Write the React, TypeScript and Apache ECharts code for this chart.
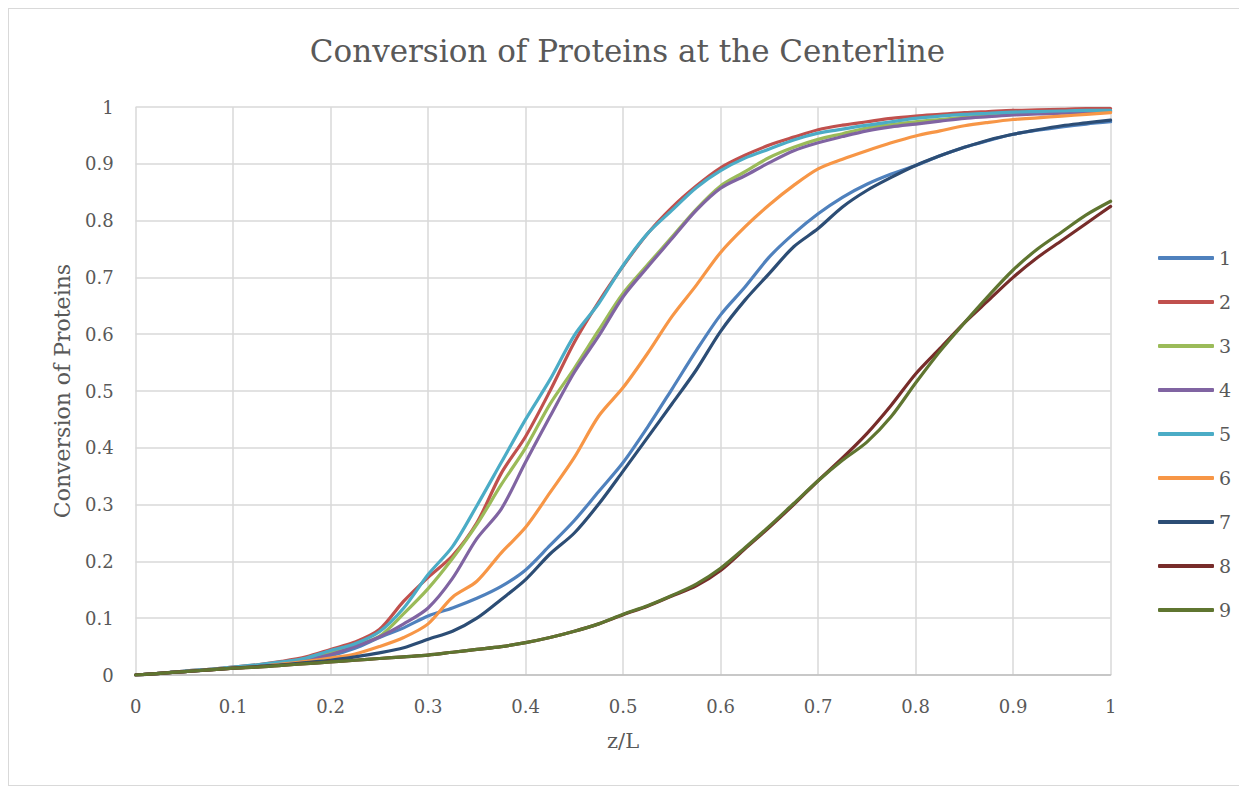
import React, { useEffect, useRef } from "react";
import * as echarts from "echarts";

const xValues = [
  0, 0.025, 0.05, 0.075, 0.1, 0.125, 0.15, 0.175, 0.2, 0.225, 0.25, 0.275, 0.3, 0.325, 0.35, 0.375, 0.4,
  0.425, 0.45, 0.475, 0.5, 0.525, 0.55, 0.575, 0.6, 0.625, 0.65, 0.675, 0.7, 0.725, 0.75, 0.775, 0.8,
  0.825, 0.85, 0.875, 0.9, 0.925, 0.95, 0.975, 1,
];

const s1 = [0, 0.003, 0.006, 0.009, 0.013, 0.016, 0.02, 0.026, 0.034, 0.047, 0.066, 0.083, 0.104, 0.118, 0.135, 0.156, 0.185, 0.228, 0.272, 0.323, 0.374, 0.436, 0.503, 0.571, 0.634, 0.683, 0.736, 0.777, 0.812, 0.841, 0.864, 0.882, 0.897, 0.914, 0.929, 0.941, 0.952, 0.959, 0.965, 0.97, 0.974];
const s2 = [0, 0.003, 0.007, 0.01, 0.014, 0.018, 0.024, 0.032, 0.045, 0.058, 0.08, 0.13, 0.172, 0.21, 0.268, 0.355, 0.42, 0.5, 0.586, 0.657, 0.72, 0.777, 0.823, 0.861, 0.893, 0.915, 0.933, 0.947, 0.96, 0.968, 0.974, 0.98, 0.984, 0.987, 0.99, 0.992, 0.994, 0.995, 0.996, 0.997, 0.997];
const s3 = [0, 0.003, 0.006, 0.009, 0.013, 0.017, 0.022, 0.029, 0.039, 0.052, 0.068, 0.108, 0.152, 0.205, 0.265, 0.335, 0.4, 0.477, 0.54, 0.607, 0.672, 0.722, 0.771, 0.82, 0.861, 0.886, 0.911, 0.929, 0.943, 0.953, 0.963, 0.969, 0.974, 0.978, 0.982, 0.985, 0.987, 0.989, 0.99, 0.992, 0.993];
const s4 = [0, 0.003, 0.006, 0.009, 0.013, 0.016, 0.021, 0.027, 0.036, 0.05, 0.067, 0.09, 0.118, 0.17, 0.24, 0.292, 0.375, 0.455, 0.533, 0.597, 0.666, 0.718, 0.768, 0.818, 0.857, 0.879, 0.902, 0.923, 0.937, 0.948, 0.958, 0.965, 0.97, 0.975, 0.98, 0.983, 0.986, 0.988, 0.989, 0.991, 0.992];
const s5 = [0, 0.003, 0.007, 0.01, 0.014, 0.018, 0.023, 0.03, 0.043, 0.055, 0.076, 0.118, 0.177, 0.226, 0.298, 0.374, 0.45, 0.52, 0.598, 0.654, 0.721, 0.777, 0.818, 0.858, 0.888, 0.91, 0.926, 0.942, 0.954, 0.961, 0.968, 0.974, 0.98, 0.984, 0.987, 0.989, 0.991, 0.992, 0.993, 0.994, 0.994];
const s6 = [0, 0.003, 0.006, 0.009, 0.012, 0.015, 0.019, 0.024, 0.03, 0.037, 0.05, 0.066, 0.09, 0.137, 0.165, 0.215, 0.26, 0.321, 0.383, 0.456, 0.506, 0.566, 0.631, 0.686, 0.744, 0.789, 0.828, 0.862, 0.891, 0.908, 0.923, 0.937, 0.949, 0.958, 0.967, 0.973, 0.978, 0.981, 0.984, 0.987, 0.99];
const s7 = [0, 0.003, 0.006, 0.009, 0.012, 0.015, 0.018, 0.022, 0.026, 0.032, 0.039, 0.048, 0.063, 0.077, 0.1, 0.133, 0.168, 0.213, 0.25, 0.301, 0.359, 0.418, 0.477, 0.537, 0.605, 0.66, 0.707, 0.754, 0.786, 0.824, 0.853, 0.876, 0.897, 0.914, 0.929, 0.942, 0.952, 0.96, 0.967, 0.972, 0.977];
const s8 = [0, 0.003, 0.006, 0.009, 0.012, 0.014, 0.017, 0.02, 0.023, 0.026, 0.029, 0.032, 0.035, 0.04, 0.045, 0.05, 0.057, 0.066, 0.077, 0.09, 0.106, 0.121, 0.139, 0.157, 0.184, 0.222, 0.26, 0.3, 0.342, 0.382, 0.425, 0.475, 0.53, 0.575, 0.62, 0.66, 0.7, 0.735, 0.765, 0.795, 0.825];
const s9 = [0, 0.003, 0.006, 0.009, 0.012, 0.014, 0.017, 0.02, 0.023, 0.026, 0.029, 0.032, 0.035, 0.04, 0.045, 0.05, 0.057, 0.066, 0.077, 0.09, 0.107, 0.122, 0.14, 0.16, 0.188, 0.224, 0.262, 0.302, 0.342, 0.378, 0.41, 0.455, 0.514, 0.57, 0.62, 0.668, 0.713, 0.75, 0.78, 0.81, 0.834];

const seriesNames = ["1", "2", "3", "4", "5", "6", "7", "8", "9"];
const seriesValues = [s1, s2, s3, s4, s5, s6, s7, s8, s9];
const seriesColors = ["#4F81BD", "#C0504D", "#9BBB59", "#8064A2", "#4BACC6", "#F79646", "#2C4D75", "#772C2A", "#5F7530"];

const titleText = "Conversion of Proteins at the Centerline";
const xAxisName = "z/L";
const yAxisName = "Conversion of Proteins";

const FONT = "'DejaVu Serif', serif";
const TEXT_COLOR = "#595959";

export default function App() {
  const ref = useRef<HTMLDivElement>(null);

  useEffect(() => {
    if (!ref.current) return;
    const chart = echarts.init(ref.current, undefined, { renderer: "svg" });
    const fmt = (v: number) => String(Number(v.toFixed(1)));
    chart.setOption({
      animation: false,
      backgroundColor: "#ffffff",
      title: {
        text: titleText,
        left: "center",
        top: 21,
        textStyle: { fontFamily: FONT, fontSize: 31, fontWeight: "normal", color: TEXT_COLOR },
      },
      legend: {
        orient: "vertical",
        left: 1144,
        top: 234,
        padding: 5,
        icon: "roundRect",
        itemWidth: 56,
        itemHeight: 4,
        itemGap: 24,
        data: seriesNames,
        textStyle: { fontFamily: FONT, fontSize: 19, color: TEXT_COLOR, lineHeight: 20, height: 20 },
      },
      grid: { left: 126.6, right: 135.4, top: 98, bottom: 110, containLabel: false },
      xAxis: {
        type: "value",
        min: 0,
        max: 1,
        interval: 0.1,
        name: xAxisName,
        nameLocation: "middle",
        nameGap: 55,
        nameTextStyle: { fontFamily: FONT, fontSize: 21, color: TEXT_COLOR },
        axisLine: { show: true, lineStyle: { color: "#BFBFBF", width: 1.5 } },
        axisTick: { show: false },
        axisLabel: { margin: 22, fontFamily: FONT, fontSize: 18, color: TEXT_COLOR, formatter: fmt },
        splitLine: { show: true, lineStyle: { color: "#D9D9D9", width: 1.5 } },
      },
      yAxis: {
        type: "value",
        min: 0,
        max: 1,
        interval: 0.1,
        name: yAxisName,
        nameLocation: "middle",
        nameGap: 62,
        nameTextStyle: { fontFamily: FONT, fontSize: 22, color: TEXT_COLOR },
        axisLine: { show: false },
        axisTick: { show: false },
        axisLabel: { margin: 22, fontFamily: FONT, fontSize: 18, color: TEXT_COLOR, formatter: fmt },
        splitLine: { show: true, lineStyle: { color: "#D9D9D9", width: 1.5 } },
      },
      series: seriesNames.map((name, i) => ({
        name,
        type: "line",
        symbol: "none",
        smooth: 0.3,
        color: seriesColors[i],
        lineStyle: { width: 3.2, color: seriesColors[i], cap: "round", join: "round" },
        data: xValues.map((x, j) => [x, seriesValues[i][j]]),
      })),
    });
    return () => chart.dispose();
  }, []);

  return (
    <div
      ref={ref}
      style={{ width: 1239, height: 778, border: "1px solid #D9D9D9", boxSizing: "border-box" }}
    />
  );
}
